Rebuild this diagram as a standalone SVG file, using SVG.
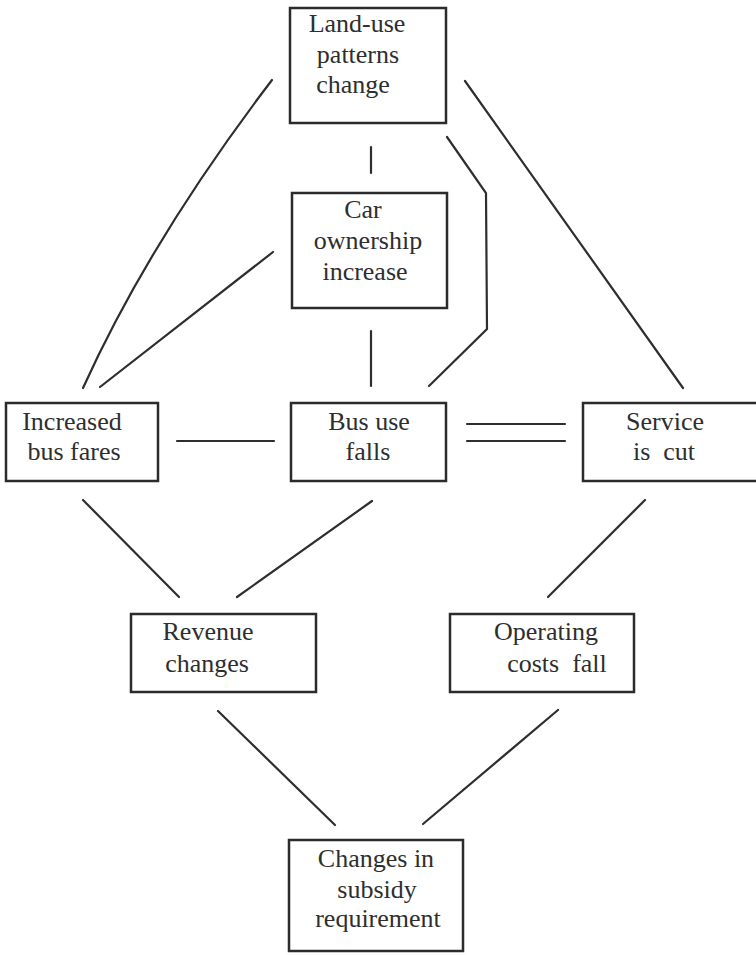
<svg xmlns="http://www.w3.org/2000/svg" width="756" height="955" viewBox="0 0 756 955">
<style>
.box{fill:none;stroke:#2b2b2b;stroke-width:2.5}
.t{font-size:26px;fill:#2e2e2e;text-anchor:middle}
.c{fill:none;stroke:#2e2e2e;stroke-width:2.2;stroke-linecap:round;stroke-linejoin:miter}
</style>
<rect width="756" height="955" fill="#ffffff"/>
<g id="connectors">
<path class="c" d="M272,80 Q150,240 83,388"/>
<line class="c" x1="273" y1="252" x2="100" y2="387"/>
<line class="c" x1="371" y1="147" x2="371" y2="173"/>
<line class="c" x1="371" y1="331" x2="371" y2="386"/>
<polyline class="c" points="447,137 486,193 487,329 429,386"/>
<line class="c" x1="465" y1="81" x2="683" y2="388"/>
<line class="c" x1="177" y1="441" x2="274" y2="441"/>
<line class="c" x1="467" y1="424" x2="565" y2="424"/>
<line class="c" x1="467" y1="441" x2="565" y2="441"/>
<line class="c" x1="83" y1="500" x2="179" y2="597"/>
<line class="c" x1="372" y1="501" x2="237" y2="597"/>
<line class="c" x1="645" y1="500" x2="548" y2="597"/>
<line class="c" x1="218" y1="711" x2="335" y2="825"/>
<line class="c" x1="558" y1="710" x2="423" y2="824"/>
</g>
<g font-family="'Liberation Serif', 'DejaVu Serif', serif">
<g id="landuse">
<rect class="box" x="290" y="8" width="156" height="115"/>
<text class="t" x="357" y="32">Land-use</text>
<text class="t" x="358" y="63">patterns</text>
<text class="t" x="353" y="93">change</text>
</g>
<g id="car">
<rect class="box" x="292" y="193" width="155" height="115"/>
<text class="t" x="363" y="218">Car</text>
<text class="t" x="368" y="249">ownership</text>
<text class="t" x="365" y="280">increase</text>
</g>
<g id="fares">
<rect class="box" x="6" y="403" width="152" height="78"/>
<text class="t" x="72" y="430">Increased</text>
<text class="t" x="74" y="460">bus fares</text>
</g>
<g id="bususe">
<rect class="box" x="291" y="403" width="155" height="78"/>
<text class="t" x="369" y="430">Bus use</text>
<text class="t" x="368" y="460">falls</text>
</g>
<g id="service">
<rect class="box" x="583" y="403" width="185" height="78"/>
<text class="t" x="665" y="430">Service</text>
<text class="t" x="664" y="460" xml:space="preserve">is  cut</text>
</g>
<g id="revenue">
<rect class="box" x="131" y="614" width="185" height="78"/>
<text class="t" x="208" y="640">Revenue</text>
<text class="t" x="207" y="672">changes</text>
</g>
<g id="operating">
<rect class="box" x="450" y="614" width="184" height="78"/>
<text class="t" x="546" y="640">Operating</text>
<text class="t" x="557" y="672" xml:space="preserve">costs  fall</text>
</g>
<g id="subsidy">
<rect class="box" x="289" y="840" width="174" height="111"/>
<text class="t" x="376" y="867">Changes in</text>
<text class="t" x="377" y="898">subsidy</text>
<text class="t" x="378" y="927">requirement</text>
</g>
</g>
</svg>
